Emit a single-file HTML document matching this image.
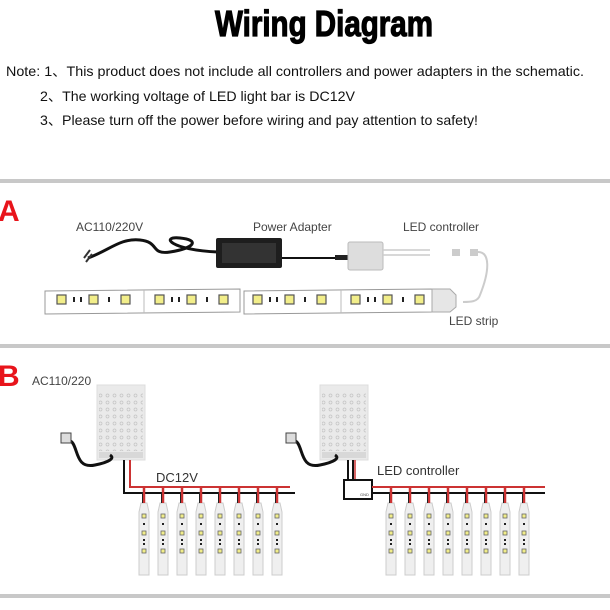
<!DOCTYPE html>
<html><head><meta charset="utf-8"><style>html,body{margin:0;padding:0;background:#fff}svg{display:block}</style></head>
<body>
<svg width="610" height="610" viewBox="0 0 610 610" xmlns="http://www.w3.org/2000/svg" font-family="Liberation Sans, sans-serif">
<rect width="610" height="610" fill="#fff"/>
<text x="215" y="36" font-family="Liberation Sans Narrow, Liberation Sans, sans-serif" font-weight="bold" font-size="36" stroke="#000" stroke-width="1.2" textLength="218" lengthAdjust="spacingAndGlyphs">Wiring Diagram</text>
<g font-size="14" fill="#111">
<text x="6" y="76" textLength="578" lengthAdjust="spacingAndGlyphs">Note: 1、This product does not include all controllers and power adapters in the schematic.</text>
<text x="40" y="101" textLength="315" lengthAdjust="spacingAndGlyphs">2、The working voltage of LED light bar is DC12V</text>
<text x="40" y="125" textLength="438" lengthAdjust="spacingAndGlyphs">3、Please turn off the power before wiring and pay attention to safety!</text>
</g>
<rect x="0" y="179" width="610" height="4" fill="#c8c8c8"/>
<rect x="0" y="344" width="610" height="4" fill="#c8c8c8"/>
<rect x="0" y="594" width="610" height="4" fill="#c8c8c8"/>
<!-- A -->
<text x="-2" y="221" font-size="30" font-weight="bold" fill="#e8141b">A</text>
<g font-size="12" fill="#444">
<text x="76" y="231">AC110/220V</text>
<text x="253" y="231">Power Adapter</text>
<text x="403" y="231">LED controller</text>
<text x="449" y="325">LED strip</text>
</g>
<path d="M88 258 C110 250 120 238 140 240 C160 242 150 255 170 252 C195 248 200 240 180 238 C160 236 170 250 218 252" stroke="#111" stroke-width="3" fill="none"/>
<path d="M86 262 l6 -8 M84 258 l6 -8" stroke="#333" stroke-width="2"/>
<rect x="216" y="238" width="66" height="30" rx="2" fill="#1e1e1e"/>
<rect x="222" y="243" width="54" height="20" fill="#333"/>
<path d="M282 258 L340 258" stroke="#111" stroke-width="2"/>
<rect x="335" y="255" width="13" height="5" fill="#222"/>
<rect x="348" y="242" width="35" height="28" rx="2" fill="#ddd" stroke="#bbb"/>
<path d="M383 250 L430 250 M383 255 L430 255" stroke="#ccc" stroke-width="1.5"/>
<rect x="452" y="249" width="8" height="7" fill="#ccc"/><rect x="470" y="249" width="8" height="7" fill="#ccc"/>
<path d="M478 252 C490 252 490 270 480 295 C478 302 470 302 463 302" stroke="#ccc" stroke-width="2" fill="none"/>
<path d="M45 291 L240 289 L240 312 L45 314 Z" fill="#fff" stroke="#999"/>
<path d="M244 291 L432 289 L432 312 L244 314 Z" fill="#fff" stroke="#999"/>
<path d="M432 289 L450 289 L456 295 L456 307 L450 312 L432 312 Z" fill="#e6e6e6" stroke="#aaa"/>
<g fill="#f2ee8a" stroke="#555" stroke-width="1.2">
<rect x="57" y="295" width="9" height="9"/><rect x="89" y="295" width="9" height="9"/><rect x="121" y="295" width="9" height="9"/>
<rect x="155" y="295" width="9" height="9"/><rect x="187" y="295" width="9" height="9"/><rect x="219" y="295" width="9" height="9"/>
<rect x="253" y="295" width="9" height="9"/><rect x="285" y="295" width="9" height="9"/><rect x="317" y="295" width="9" height="9"/>
<rect x="351" y="295" width="9" height="9"/><rect x="383" y="295" width="9" height="9"/><rect x="415" y="295" width="9" height="9"/>
</g>
<g fill="#222">
<rect x="73" y="297" width="2" height="5"/><rect x="80" y="297" width="2" height="5"/><rect x="108" y="297" width="2" height="5"/>
<rect x="171" y="297" width="2" height="5"/><rect x="178" y="297" width="2" height="5"/><rect x="206" y="297" width="2" height="5"/>
<rect x="269" y="297" width="2" height="5"/><rect x="276" y="297" width="2" height="5"/><rect x="304" y="297" width="2" height="5"/>
<rect x="367" y="297" width="2" height="5"/><rect x="374" y="297" width="2" height="5"/><rect x="402" y="297" width="2" height="5"/>
</g>
<path d="M144 290 L144 313 M341 290 L341 313" stroke="#bbb"/>
<!-- B -->
<text x="-2" y="386" font-size="30" font-weight="bold" fill="#e8141b">B</text>
<text x="32" y="385" font-size="12" fill="#444">AC110/220</text>
<text x="156" y="482" font-size="13" fill="#333">DC12V</text>
<text x="377" y="475" font-size="13" fill="#333">LED controller</text>
<defs>
<pattern id="dots" width="7" height="7" patternUnits="userSpaceOnUse"><circle cx="3.5" cy="3.5" r="1.5" fill="none" stroke="#c4c4c4" stroke-width="0.7"/></pattern>
<g id="strip"><path d="M-5 512 L-3 503 L3 503 L5 512 L5 575 L-5 575 Z" fill="#efefef" stroke="#ccc"/>
<rect x="-2" y="514" width="4" height="4" fill="#f2ee8a" stroke="#666" stroke-width="0.8"/><rect x="-1" y="523" width="2" height="2" fill="#222"/>
<rect x="-2" y="531" width="4" height="4" fill="#f2ee8a" stroke="#666" stroke-width="0.8"/><rect x="-1" y="539" width="2" height="2" fill="#222"/><rect x="-1" y="543" width="2" height="2" fill="#222"/>
<rect x="-2" y="549" width="4" height="4" fill="#f2ee8a" stroke="#666" stroke-width="0.8"/>
<path d="M0 487 L0 503" stroke="#c33" stroke-width="2.5"/><path d="M-1.5 492 L-1.5 503" stroke="#222" stroke-width="1"/></g>
<g id="psu"><rect x="0" y="0" width="48" height="75" fill="#eaeaea" stroke="#ddd"/><rect x="2" y="8" width="44" height="58" fill="url(#dots)"/><rect x="2" y="67" width="44" height="6" fill="#d8d8d8"/></g>
</defs>
<use href="#psu" x="97" y="385"/>
<use href="#psu" x="320" y="385"/>
<path d="M67 440 C80 440 72 470 95 465 C110 462 115 458 110 455" stroke="#111" stroke-width="3" fill="none"/>
<path d="M61 433 l10 0 l0 10 l-10 0 z" fill="#ddd" stroke="#444"/>
<path d="M292 440 C305 440 297 470 320 465 C335 462 340 458 335 455" stroke="#111" stroke-width="3" fill="none"/>
<path d="M286 433 l10 0 l0 10 l-10 0 z" fill="#ddd" stroke="#444"/>
<path d="M130 460 L130 487 L290 487" stroke="#c33" stroke-width="2" fill="none"/>
<path d="M124 460 L124 493 L295 493" stroke="#111" stroke-width="2" fill="none"/>
<path d="M353 460 L353 480 M348 460 L348 480" stroke="#111" stroke-width="2"/><path d="M355 460 L355 480" stroke="#c33" stroke-width="1.5"/>
<rect x="344" y="480" width="28" height="19" fill="#fff" stroke="#111" stroke-width="2"/>
<text x="360" y="496" font-size="4" fill="#444">GND</text>
<path d="M372 487 L545 487" stroke="#c33" stroke-width="2"/>
<path d="M372 493 L545 493" stroke="#111" stroke-width="2"/>
<use href="#strip" x="144"/><use href="#strip" x="163"/><use href="#strip" x="182"/><use href="#strip" x="201"/>
<use href="#strip" x="220"/><use href="#strip" x="239"/><use href="#strip" x="258"/><use href="#strip" x="277"/>
<use href="#strip" x="391"/><use href="#strip" x="410"/><use href="#strip" x="429"/><use href="#strip" x="448"/>
<use href="#strip" x="467"/><use href="#strip" x="486"/><use href="#strip" x="505"/><use href="#strip" x="524"/>
</svg>
</body></html>
